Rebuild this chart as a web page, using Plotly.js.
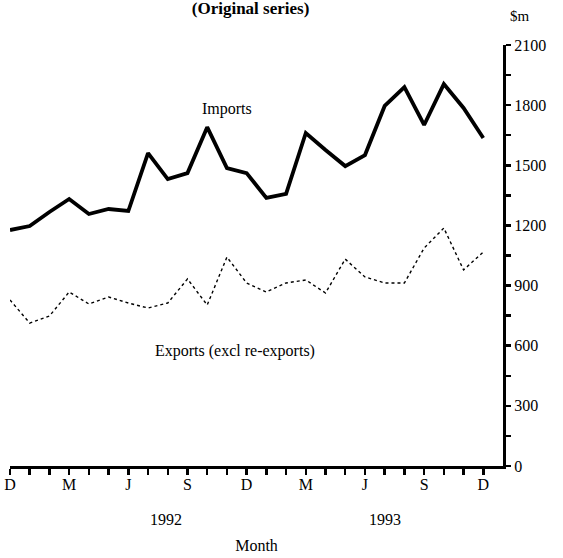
<!DOCTYPE html>
<html>
<head>
<meta charset="utf-8">
<script src="https://cdn.plot.ly/plotly-3.0.1.min.js"></script>
<style>html,body{margin:0;padding:0;background:#fff;}#chart{width:563px;height:558px;}</style>
</head>
<body>
<div id="chart"></div>
<script>
// Months Dec 1991 .. Dec 1993
const monthLetters = ['D','J','F','M','A','M','J','J','A','S','O','N','D','J','F','M','A','M','J','J','A','S','O','N','D'];
const imports = [1177,1197,1267,1332,1257,1282,1272,1561,1431,1461,1690,1486,1461,1337,1357,1661,1576,1496,1551,1796,1890,1701,1905,1786,1636];
const exports_ = [828,713,748,868,808,843,813,788,813,933,803,1042,913,868,913,928,863,1032,943,913,913,1087,1187,978,1067];
const yTickVals = [0,300,600,900,1200,1500,1800,2100];
const years = ['1992','1993'];
const yearPos = [7.9,19.0];

const idx = monthLetters.map((_, i) => i);
const tickText = monthLetters.map((m, i) => (i % 3 === 0 ? m : ''));
const serif = 'Liberation Serif, Times New Roman, serif';

const traces = [
  {x: idx, y: imports, type: 'scatter', mode: 'lines', line: {color: '#000', width: 3.8}, hoverinfo: 'skip'},
  {x: idx, y: exports_, type: 'scatter', mode: 'lines', line: {color: '#000', width: 1.4, dash: 'dot'}, hoverinfo: 'skip'}
];

const annotations = [
  {text: 'Imports', x: 11.0, y: 1780, xref: 'x', yref: 'y', showarrow: false, font: {family: serif, size: 16, color: '#000'}},
  {text: 'Exports (excl re-exports)', x: 11.4, y: 575, xref: 'x', yref: 'y', showarrow: false, font: {family: serif, size: 16, color: '#000'}},
  {text: '$m', x: 1.034, y: 1.07, xref: 'paper', yref: 'paper', xanchor: 'center', yanchor: 'middle', showarrow: false, font: {family: serif, size: 15, color: '#000'}}
];
years.forEach((yr, i) => annotations.push({text: yr, x: yearPos[i], y: -0.128, xref: 'x', yref: 'paper', yanchor: 'middle', showarrow: false, font: {family: serif, size: 16, color: '#000'}}));

const layout = {
  width: 563, height: 558,
  margin: {l: 10, r: 60, t: 45, b: 92},
  paper_bgcolor: '#fff', plot_bgcolor: '#fff',
  showlegend: false,
  title: {text: '<b>(Original series)</b>', x: 0.445, xanchor: 'center', y: 0.986, yanchor: 'middle', yref: 'container', font: {family: serif, size: 17, color: '#000'}},
  xaxis: {
    range: [0, 25], tickmode: 'array', tickvals: idx, ticktext: tickText,
    ticks: 'outside', ticklen: 6, tickwidth: 2.5, tickcolor: '#000', ticklabelstandoff: -4,
    showline: true, linecolor: '#000', linewidth: 2.5, showgrid: false, zeroline: false,
    tickfont: {family: serif, size: 16, color: '#000'},
    title: {text: 'Month', font: {family: serif, size: 16, color: '#000'}, standoff: 48}
  },
  yaxis: {
    range: [0, 2100], side: 'right', tickmode: 'array', tickvals: yTickVals,
    ticks: 'outside', ticklen: 5, tickwidth: 2.5, tickcolor: '#000',
    minor: {dtick: 150, tick0: 0, ticks: 'outside', ticklen: 5, tickwidth: 2.5, tickcolor: '#000', showgrid: false},
    showline: true, linecolor: '#000', linewidth: 3, showgrid: false, zeroline: false,
    tickfont: {family: serif, size: 16, color: '#000'}
  },
  annotations: annotations
};

Plotly.newPlot('chart', traces, layout, {displayModeBar: false, staticPlot: true});
</script>
</body>
</html>
